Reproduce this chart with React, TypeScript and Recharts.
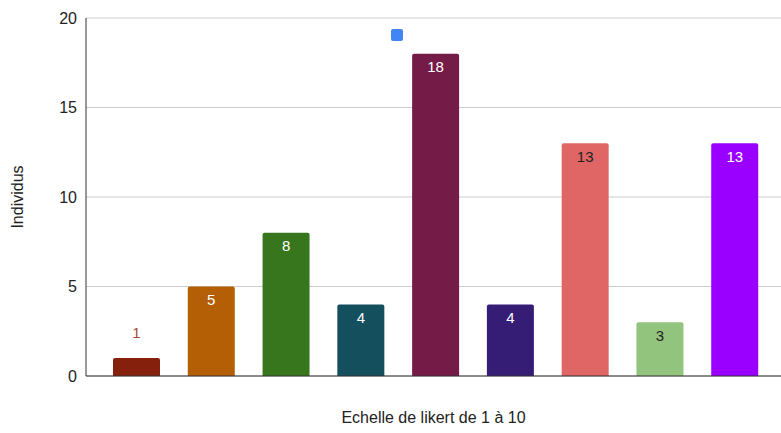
import { BarChart, Bar, XAxis, YAxis, CartesianGrid, Legend, LabelList, Cell } from "recharts";

const categories = ["1", "2", "3", "4", "5", "6", "7", "8", "9"];
const individus = [1, 5, 8, 4, 18, 4, 13, 3, 13];
const barColors = ["#85200c", "#b45f06", "#38761d", "#134f5c", "#741b47", "#351c75", "#e06666", "#93c47d", "#9900ff"];
const labelColors = ["#a5493a", "#ffffff", "#ffffff", "#ffffff", "#ffffff", "#ffffff", "#222222", "#222222", "#ffffff"];
const yTicks = [0, 5, 10, 15, 20];

const data = categories.map((c, i) => ({ name: c, value: individus[i] }));

const font = "'Liberation Sans', Arial, sans-serif";

function BarLabel(props: any) {
  const { x, y, width, value, index } = props;
  // the shortest bar gets its label above, the others inside the top
  const outside = value < 2;
  return (
    <text
      x={x + width / 2}
      y={outside ? y - 26 : y + 13}
      fill={labelColors[index]}
      fontSize={15}
      fontFamily={font}
      textAnchor="middle"
      dominantBaseline="central"
    >
      {value}
    </text>
  );
}

export default function App() {
  return (
    <div style={{ position: "absolute", left: 0, top: 0, background: "#fff" }}>
      <BarChart width={781} height={433} data={data} margin={{ top: 18, right: 0, left: 0, bottom: 0 }}>
        <CartesianGrid vertical={false} stroke="#cccccc" />
        <XAxis
          dataKey="name"
          tick={false}
          tickLine={false}
          height={57}
          stroke="#333333"
          padding={{ left: 13, right: 9 }}
          label={{ value: "Echelle de likert de 1 à 10", position: "insideBottom", offset: 10, fill: "#222", fontSize: 16, fontFamily: font }}
        />
        <YAxis
          domain={[0, 20]}
          ticks={yTicks}
          width={86}
          tickLine={false}
          stroke="#333333"
          tickMargin={3}
          tick={{ fill: "#222", fontSize: 16, fontFamily: font }}
          label={{ value: "Individus", angle: -90, position: "insideLeft", offset: 17, fill: "#222", fontSize: 16, fontFamily: font, style: { textAnchor: "middle" } }}
        />
        <Legend
          layout="horizontal"
          align="center"
          verticalAlign="middle"
          wrapperStyle={{ left: 391, top: 29, width: 12, height: 12 }}
          content={() => <div style={{ width: 12, height: 12, background: "#4285f4", borderRadius: 2 }} />}
        />
        <Bar dataKey="value" name="Individus" fill="#4285f4" barSize={47} radius={[2, 2, 0, 0]} isAnimationActive={false}>
          {data.map((d, i) => (
            <Cell key={d.name} fill={barColors[i]} />
          ))}
          <LabelList dataKey="value" content={<BarLabel />} />
        </Bar>
      </BarChart>
    </div>
  );
}
